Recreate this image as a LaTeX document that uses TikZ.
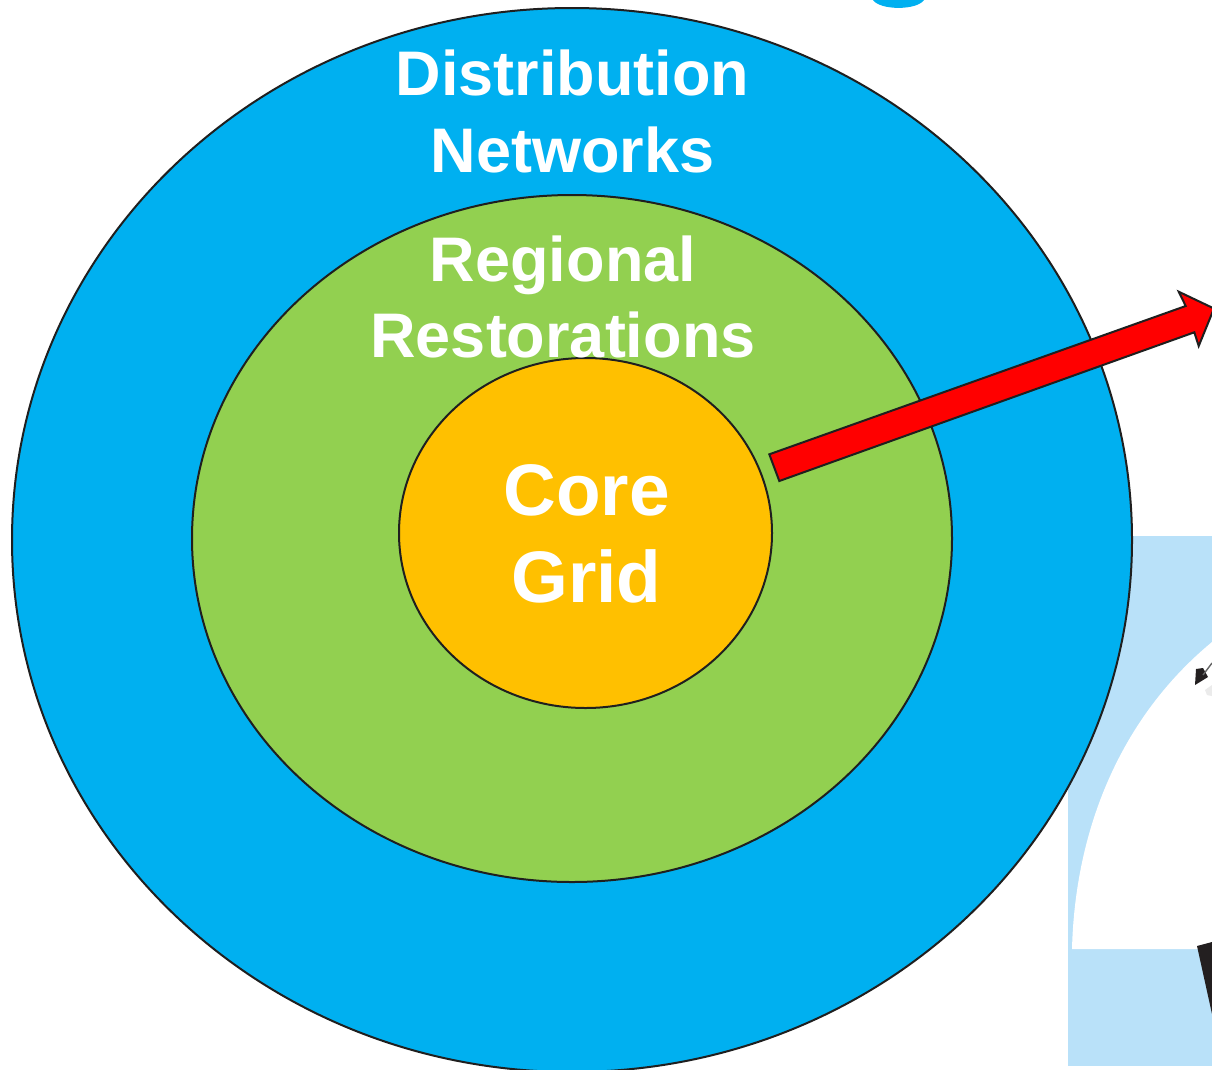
\documentclass[tikz,border=0pt]{standalone}
\usepackage{fontspec}
\setmainfont{Liberation Sans}
\definecolor{cBlue}{HTML}{00B0F0}
\definecolor{cGreen}{HTML}{92D050}
\definecolor{cOrange}{HTML}{FFC000}
\definecolor{cPale}{HTML}{B9E1F9}
\definecolor{cLine}{HTML}{1F1F1F}
\definecolor{cInk}{HTML}{231F20}
\tikzset{
  ring/.style={draw=cLine,line width=2pt},
  lab/.style={text=white,font=\bfseries\fontsize{63}{76.7}\selectfont,align=center,inner sep=0pt},
  labbig/.style={text=white,font=\bfseries\fontsize{73}{87}\selectfont,align=center,inner sep=0pt}
}
\begin{document}
\begin{tikzpicture}[x=1pt,y=-1pt]
\useasboundingbox (0,0) rectangle (1212,1069);
% cropped picture behind the rings
\fill[cPale] (1068,536) rectangle (1212,1066);
\fill[white] (1072,949) .. controls (1075,830) and (1120,718) .. (1212,642) -- (1212,949) -- cycle;
\fill[cInk] (1195,685) -- (1196,669) -- (1203,668) -- (1208,677) -- cycle;
\draw[black!60,line width=1.4pt] (1203,675) -- (1212,663);
\fill[black!8] (1205,690) -- (1212,685) -- (1212,696) -- (1207,695) -- cycle;
\fill[cInk] (1197,946) -- (1212,942) -- (1212,1014) -- cycle;
% tail of a cropped glyph at the top edge
\fill[cBlue] (873,0) .. controls (880,10.5) and (917,10.5) .. (924,0) -- cycle;
% rings
\draw[ring,fill=cBlue] (572,540) ellipse [x radius=560,y radius=532];
\draw[ring,fill=cGreen] (572,538.5) ellipse [x radius=380,y radius=343.5];
\draw[ring,fill=cOrange] (585.5,533) ellipse [x radius=186.5,y radius=175];
% labels
\node[lab] (dist) at (572.5,111.5) {Distribution\\Networks};
\node[lab] (reg) at (563,297) {Regional\\Restorations};
\node[labbig] (core) at (586.5,534) {Core\\Grid};
% block arrow
\draw[ring,fill=red,line join=miter] (769.3,454.3) -- (1185.7,306) -- (1178.7,291.7) -- (1214,308.5) -- (1198.7,346) -- (1194.3,332.3) -- (779.3,481) -- cycle;
\end{tikzpicture}
\end{document}
